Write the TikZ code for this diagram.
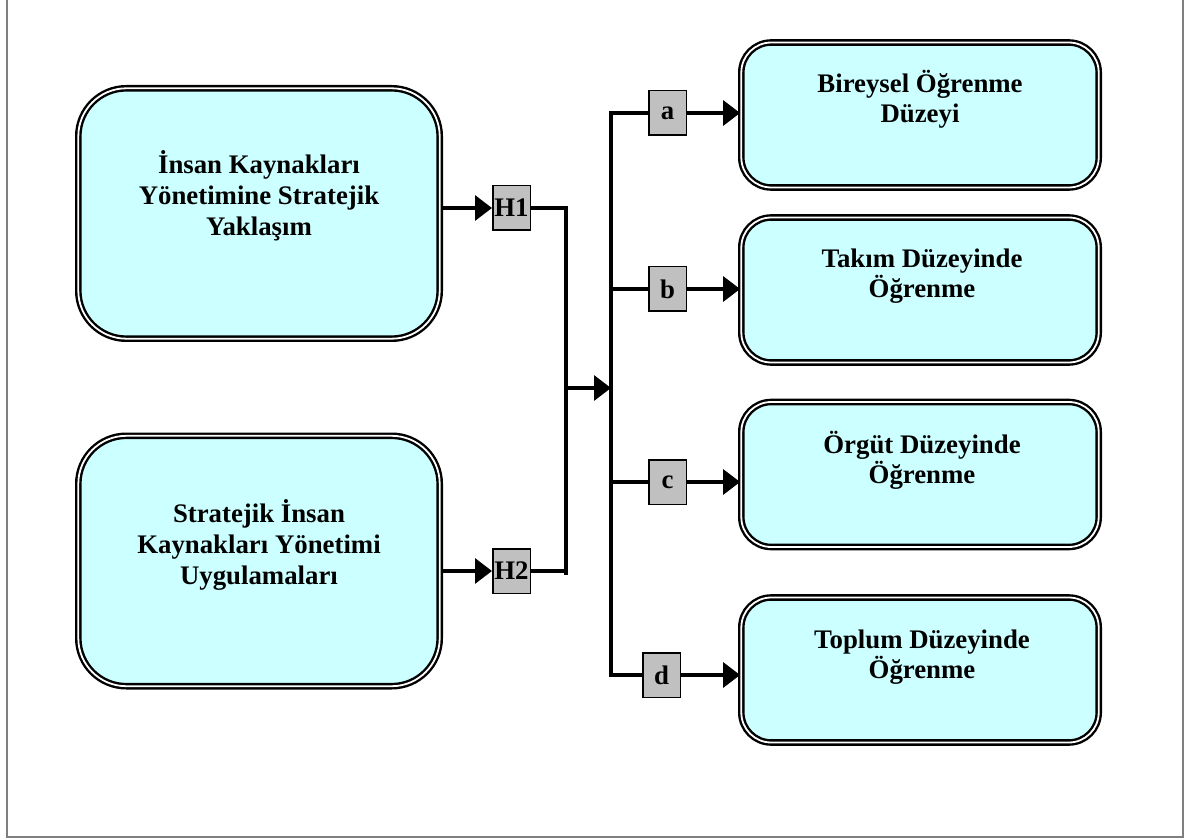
\documentclass[tikz,border=0pt]{standalone}
\usepackage{fontspec}
\setmainfont{Liberation Serif}
\usetikzlibrary{arrows.meta}
\definecolor{boxfill}{HTML}{CCFFFF}
\definecolor{tagfill}{HTML}{C0C0C0}
\definecolor{framegray}{HTML}{7F7F7F}

\begin{document}
\begin{tikzpicture}[x=0.5pt,y=-0.5pt,
  bigbox/.style={draw, line width=1.2pt, double=white, double distance=0.9pt,
    fill=boxfill, inner sep=0pt, minimum width=178.7pt},
  bigL/.style={bigbox, rounded corners=24pt, minimum width=180.7pt, minimum height=125.2pt},
  bigR/.style={bigbox, rounded corners=15pt, minimum height=72.5pt},
  txtL/.style={font=\bfseries\fontsize{13.4}{15.5}\selectfont, align=center, inner sep=0pt, anchor=base},
  txtR/.style={font=\bfseries\fontsize{13.4}{15}\selectfont, align=center, inner sep=0pt, anchor=base},
  tag/.style={draw, line width=0.75pt, fill=tagfill, inner sep=0pt,
    minimum width=18.75pt, minimum height=22.25pt,
    font=\bfseries\fontsize{13.4}{15}\selectfont},
  link/.style={line width=1.6pt},
  arr/.style={link, -{Triangle[length=8.5pt, width=12.5pt]}}]

\useasboundingbox (0,0) rectangle (1203,839);

% open frame around the figure
\draw[framegray, line width=1pt] (7,0) -- (7,837) -- (1183,837) -- (1183,0);

% left-hand boxes (text placed by the baseline of its last line)
\node[bigL] (s1) at (259,213.5) {};
\node[bigL] (s2) at (259,561) {};
\node[txtL] (s1t) at (259,236) {İnsan Kaynakları\\Yönetimine Stratejik\\Yaklaşım};
\node[txtL] (s2t) at (259,584) {Stratejik İnsan\\Kaynakları Yönetimi\\Uygulamaları};

% right-hand boxes
\node[bigR] (ra) at (920,115) {};
\node[bigR] (rb) at (920,290) {};
\node[bigR] (rc) at (920,474.5) {};
\node[bigR] (rd) at (920,670) {};
\node[txtR] (rat) at (920,123) {Bireysel Öğrenme\\Düzeyi};
\node[txtR] (rbt) at (922,298) {Takım Düzeyinde\\Öğrenme};
\node[txtR] (rct) at (922,483) {Örgüt Düzeyinde\\Öğrenme};
\node[txtR] (rdt) at (922,678) {Toplum Düzeyinde\\Öğrenme};

% hypothesis tags
\node[tag] (h1) at (511.5,208) {H1};
\node[tag] (h2) at (511.5,571) {H2};
\node[tag] (ta) at (667.5,113) {a};
\node[tag] (tb) at (667.5,289) {b};
\node[tag] (tc) at (667.5,482) {c};
\node[tag] (td) at (661.5,675) {d};

% junction points
\coordinate (jt) at (566,208);
\coordinate (jb) at (566,575);
\coordinate (jm) at (566,388);
\coordinate (bt) at (611,113);
\coordinate (bb) at (611,675);
\coordinate (bm) at (611,388);

% inputs
\draw[arr] (s1.east |- h1) -- (h1.west);
\draw[arr] (s2.east |- h2) -- (h2.west);

% merge of H1 and H2
\draw[link] (h1.east) -- (jt) -- (jb);
\draw[link] (h2.east) -- (h2.east -| jb);
\draw[arr] (jm) -- (bm);

% distribution bus
\draw[link] (ta.west) -- (bt) -- (bb) -- (td.west);
\draw[link] (bt |- tb) -- (tb.west);
\draw[link] (bt |- tc) -- (tc.west);

% outputs
\draw[arr] (ta.east) -- (ra.west |- ta);
\draw[arr] (tb.east) -- (rb.west |- tb);
\draw[arr] (tc.east) -- (rc.west |- tc);
\draw[arr] (td.east) -- (rd.west |- td);
\end{tikzpicture}
\end{document}
